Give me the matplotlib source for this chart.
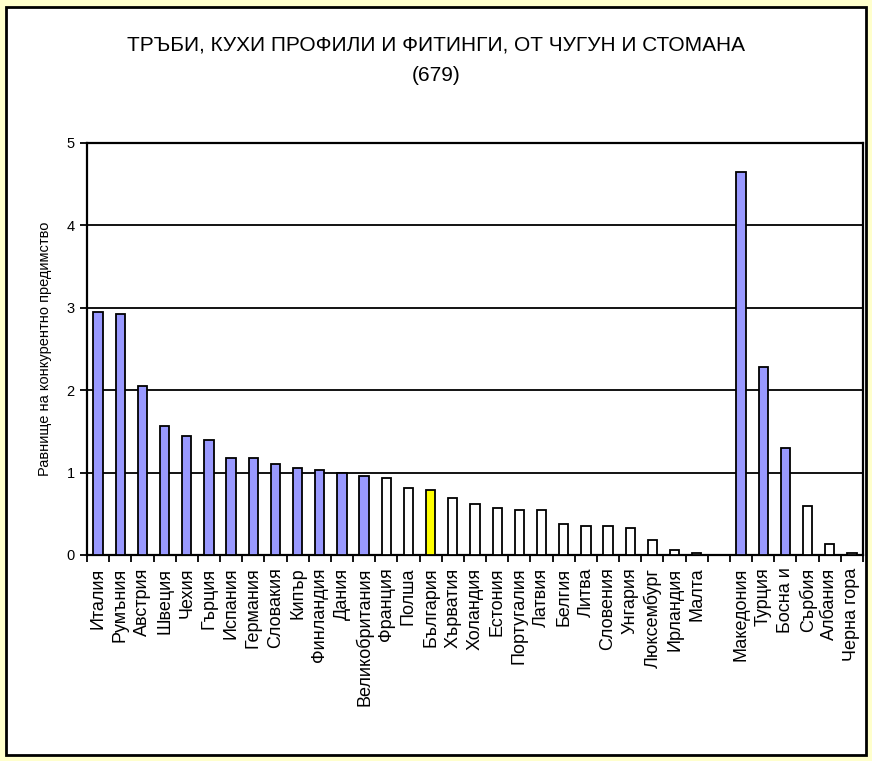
import matplotlib
matplotlib.use("Agg")
import matplotlib.pyplot as plt
from matplotlib.patches import Rectangle
import numpy as np

plt.rcParams['font.family'] = ['Liberation Sans', 'DejaVu Sans']

categories = ["Италия", "Румъния", "Австрия", "Швеция", "Чехия", "Гърция", "Испания",
              "Германия", "Словакия", "Кипър", "Финландия", "Дания", "Великобритания",
              "Франция", "Полша", "България", "Хърватия", "Холандия", "Естония",
              "Португалия", "Латвия", "Белгия", "Литва", "Словения", "Унгария",
              "Люксембург", "Ирландия", "Малта", "",
              "Македония", "Турция", "Босна и", "Сърбия", "Албания", "Черна гора"]
values = [2.95, 2.92, 2.05, 1.57, 1.44, 1.40, 1.18,
          1.18, 1.10, 1.06, 1.03, 0.99, 0.96,
          0.93, 0.81, 0.79, 0.69, 0.62, 0.57,
          0.55, 0.55, 0.38, 0.35, 0.35, 0.33,
          0.18, 0.06, 0.02, 0.0,
          4.65, 2.28, 1.30, 0.59, 0.13, 0.02]
groups = ["b", "b", "b", "b", "b", "b", "b",
          "b", "b", "b", "b", "b", "b",
          "w", "w", "y", "w", "w", "w",
          "w", "w", "w", "w", "w", "w",
          "w", "w", "w", "n",
          "b", "b", "b", "w", "w", "w"]
color_map = {"b": "#9999FF", "w": "#FFFFFF", "y": "#FFFF00", "n": "none"}

title = "ТРЪБИ, КУХИ ПРОФИЛИ И ФИТИНГИ, ОТ ЧУГУН И СТОМАНА\n(679)"
ylabel = "Равнище на конкурентно предимство"

fig = plt.figure(figsize=(8.72, 7.61), dpi=100)
fig.patch.set_facecolor("#FFFFCC")
frame = Rectangle((6 / 872, 6 / 761), 860 / 872, 748 / 761,
                  transform=fig.transFigure, facecolor="white",
                  edgecolor="black", linewidth=2.0, zorder=-10)
fig.patches.append(frame)

ax = fig.add_axes([87 / 872, 1 - 555 / 761, 776 / 872, 412 / 761])
ax.set_zorder(1)
ax.set_facecolor("white")
n = len(categories)
x = np.arange(n)
for xi, v, g in zip(x, values, groups):
    if g == "n":
        continue
    ax.bar(xi, v, width=0.42, color=color_map[g], edgecolor="black", linewidth=1.3, zorder=3)

ax.set_xlim(-0.5, n - 0.5)
ax.set_ylim(0, 5)
ax.set_yticks([0, 1, 2, 3, 4, 5])
ax.set_yticklabels(["0", "1", "2", "3", "4", "5"], fontsize=10.5)
for yv in [1, 2, 3, 4]:
    ax.axhline(yv, color="black", linewidth=1.3, zorder=1)

ax.set_xticks(np.arange(-0.5, n, 1.0))
ax.set_xticklabels([])
ax.set_xticks(x, minor=True)
ax.set_xticklabels(categories, minor=True, rotation=90, fontsize=13, va="top", ha="center")
ax.tick_params(axis="x", which="major", length=5, width=1.3, direction="out", color="black")
ax.tick_params(axis="x", which="minor", length=0, pad=9)
ax.tick_params(axis="y", length=5, width=1.3, direction="out", pad=4)
for sp in ax.spines.values():
    sp.set_linewidth(1.6)
    sp.set_color("black")

ax.set_ylabel(ylabel, fontsize=10.5, labelpad=10)

fig.text(0.5, 1 - 60 / 761, title, ha="center", va="center", fontsize=15,
         linespacing=1.75)

fig.savefig("out.png", dpi=100, facecolor=fig.get_facecolor())
